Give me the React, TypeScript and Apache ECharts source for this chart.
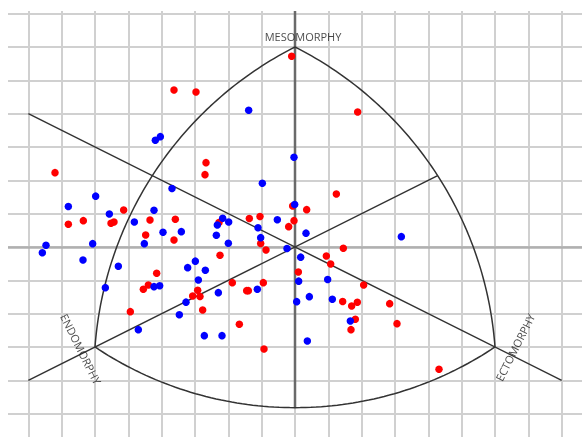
import React, { useEffect, useRef } from "react";
import * as echarts from "echarts";

// Somatochart coordinates: X = ecto - endo, Y = 2*meso - (endo + ecto)
const redPoints: [number, number][] = [
  [-0.1, 11.44], [-3.63, 9.42], [-2.97, 9.3], [1.88, 8.1], [-2.67, 5.06], [-2.7, 4.34],
  [-7.2, 4.46], [1.24, 3.18], [-0.07, 2.46], [0.35, 2.24], [-5.14, 2.22], [-6.8, 1.36],
  [-6.35, 1.58], [-5.52, 1.42], [-5.43, 1.5], [-4.35, 1.62], [-3.59, 1.66], [-4.48, 0.72],
  [-3.63, 0.42], [-2.28, 1.47], [-1.37, 1.71], [-1.05, 1.83], [-0.19, 1.22], [-0.03, 1.58],
  [-1.03, 0.21], [-0.87, -0.18], [-2.25, -0.5], [1.45, -0.08], [0.94, -0.54], [1.07, -1.02],
  [0.1, -1.5], [-4.15, -1.58], [-4.4, -2.28], [-4.55, -2.54], [-1.88, -2.14], [-0.95, -2.14],
  [-1.45, -2.62], [-1.4, -2.62], [-2.92, -2.6], [-3.07, -2.94], [-2.85, -2.97], [-2.77, -3.78],
  [-4.94, -3.88], [-1.67, -4.64], [-0.93, -6.12], [2.06, -2.28], [1.43, -3.27], [1.7, -3.54],
  [1.87, -3.32], [2.84, -3.4], [1.81, -4.34], [1.68, -4.96], [3.06, -4.6], [4.32, -7.34],
];

const bluePoints: [number, number][] = [
  [-1.39, 8.2], [-4.19, 6.4], [-4.04, 6.62], [-0.03, 5.38], [-0.98, 3.82], [-3.69, 3.51],
  [-5.98, 3.05], [-6.8, 2.43], [-0.01, 2.55], [-5.57, 1.98], [-4.23, 2.2], [-4.82, 1.5],
  [-3.96, 0.88], [-3.41, 0.92], [-4.52, 0.2], [-2.17, 1.72], [-2.33, 1.32], [-1.99, 1.5],
  [-2.36, 0.7], [-2.0, 0.22], [-1.11, 1.15], [-1.03, 0.56], [-0.53, 1.63], [-0.24, -0.09],
  [-7.47, 0.1], [-7.58, -0.35], [-6.07, 0.2], [-6.36, -0.78], [-5.3, -1.16], [-5.69, -2.44],
  [-2.99, -0.85], [-3.22, -1.24], [-2.69, -1.4], [-2.9, -1.98], [-4.23, -2.38], [-4.06, -2.33],
  [-2.3, -2.74], [-3.27, -3.31], [-3.47, -4.07], [-4.7, -4.96], [-2.72, -5.32], [-2.19, -5.32],
  [-1.13, -2.54], [0.05, -3.28], [0.11, -2.05], [0.17, -0.61], [0.33, 0.83], [0.98, -1.95],
  [0.43, -2.98], [1.12, -3.14], [1.66, -4.44], [0.37, -5.64], [3.19, 0.62],
];

// Somatochart frame anchors
const endoCorner: [number, number] = [-6, -6];
const mesoCorner: [number, number] = [0, 12];
const ectoCorner: [number, number] = [6, -6];
const leftArcMid: [number, number] = [-4.28, 4.28];
const rightArcMid: [number, number] = [4.28, 4.28];
const bottomArcMid: [number, number] = [0, -9.64];
const mesoAxis: [number, number][] = [[0, 16], bottomArcMid];
const ectoAxis: [number, number][] = [[-8, 8], [8, -8]];
const endoAxis: [number, number][] = [[-8, -8], rightArcMid];

const axisLabels = [
  { name: "MESOMORPHY", pos: [0.24, 12.6], rotate: 0 },
  { name: "ENDOMORPHY", pos: [-6.42, -6.12], rotate: -63.4 },
  { name: "ECTOMORPHY", pos: [6.6, -6.02], rotate: 63.4 },
];

// circle arc through three points (evaluated in square-cell space, y counts double)
function arcThrough(a: number[], b: number[], c: number[], n = 80): number[][] {
  const A = [a[0], a[1] / 2], B = [b[0], b[1] / 2], C = [c[0], c[1] / 2];
  const d = 2 * (A[0] * (B[1] - C[1]) + B[0] * (C[1] - A[1]) + C[0] * (A[1] - B[1]));
  const sa = A[0] ** 2 + A[1] ** 2, sb = B[0] ** 2 + B[1] ** 2, sc = C[0] ** 2 + C[1] ** 2;
  const ux = (sa * (B[1] - C[1]) + sb * (C[1] - A[1]) + sc * (A[1] - B[1])) / d;
  const uy = (sa * (C[0] - B[0]) + sb * (A[0] - C[0]) + sc * (B[0] - A[0])) / d;
  const r = Math.hypot(A[0] - ux, A[1] - uy);
  const ang = (p: number[]) => Math.atan2(p[1] - uy, p[0] - ux);
  const norm = (t: number) => ((t % (2 * Math.PI)) + 2 * Math.PI) % (2 * Math.PI);
  const a0 = ang(A);
  const d1 = norm(ang(B) - a0), d2 = norm(ang(C) - a0);
  const sweep = d1 < d2 ? d2 : d2 - 2 * Math.PI;
  const pts: number[][] = [];
  for (let i = 0; i <= n; i++) {
    const t = a0 + (sweep * i) / n;
    pts.push([ux + r * Math.cos(t), (uy + r * Math.sin(t)) * 2]);
  }
  return pts;
}

export default function App() {
  const ref = useRef<HTMLDivElement>(null);
  useEffect(() => {
    if (!ref.current) return;
    const chart = echarts.init(ref.current, null, { renderer: "svg" });
    const frameLine = (data: number[][], color = "#333333", width = 1.5) => ({
      type: "line",
      data,
      symbol: "none",
      silent: true,
      z: 3,
      lineStyle: { color, width },
    });
    chart.setOption({
      animation: false,
      grid: {
        left: -13,
        right: -13,
        top: -30.7,
        bottom: -10,
        containLabel: false,
        outerBoundsMode: "none",
      },
      xAxis: {
        type: "value",
        min: -9,
        max: 9,
        interval: 1,
        axisLabel: { show: false },
        axisTick: { show: false },
        axisLine: { show: true, onZero: true, lineStyle: { color: "#b0b0b0", width: 2.5 } },
        splitLine: { show: true, lineStyle: { color: "#d0d0d0", width: 2 } },
      },
      yAxis: {
        type: "value",
        min: -12,
        max: 16,
        interval: 2,
        axisLabel: { show: false },
        axisTick: { show: false },
        axisLine: { show: false },
        splitLine: { show: true, lineStyle: { color: "#d0d0d0", width: 2 } },
      },
      series: [
        frameLine(mesoAxis, "#6a6a6a", 2.5),
        frameLine(ectoAxis),
        frameLine(endoAxis),
        frameLine(arcThrough(endoCorner, leftArcMid, mesoCorner)),
        frameLine(arcThrough(mesoCorner, rightArcMid, ectoCorner)),
        frameLine(arcThrough(endoCorner, bottomArcMid, ectoCorner)),
        {
          type: "scatter",
          data: redPoints,
          symbolSize: 7.5,
          itemStyle: { color: "#ff0000", opacity: 1 },
          z: 5,
        },
        {
          type: "scatter",
          data: bluePoints,
          symbolSize: 7.5,
          itemStyle: { color: "#0000ff", opacity: 1 },
          z: 6,
        },
        {
          type: "scatter",
          silent: true,
          symbolSize: 1,
          itemStyle: { color: "rgba(0,0,0,0)" },
          z: 7,
          data: axisLabels.map((l) => ({
            value: l.pos,
            label: { formatter: l.name, rotate: l.rotate },
          })),
          label: {
            show: true,
            position: "inside",
            color: "#1a1a1a",
            fontSize: 11,
            fontFamily: "Open Sans",
          },
        },
      ],
    });
    return () => chart.dispose();
  }, []);
  return (
    <div
      ref={ref}
      style={{ position: "fixed", left: 8, top: 11, width: 574, height: 426 }}
    />
  );
}
